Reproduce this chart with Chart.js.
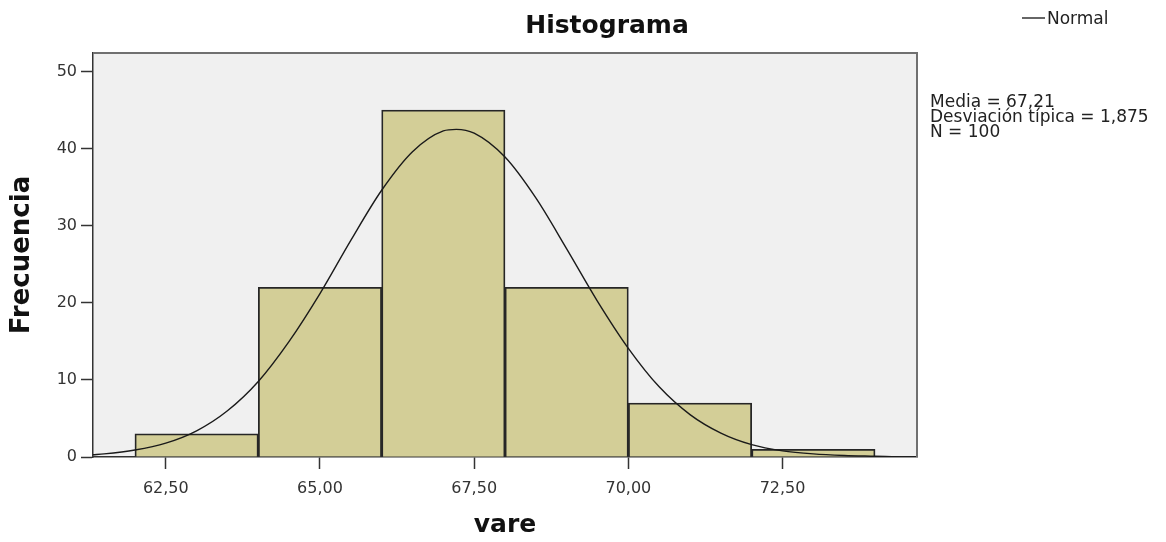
<!DOCTYPE html>
<html lang="es">
<head>
<meta charset="utf-8">
<title>Histograma</title>
<script src="https://cdn.jsdelivr.net/npm/chart.js@4.4.0/dist/chart.umd.min.js"></script>
<style>
    body { margin: 0; background: #ffffff; }
    #grafico { display: block; }
</style>
</head>
<body>
<canvas id="grafico" width="1166" height="542"></canvas>
<script>
// Datos del histograma (variable vare)
const limitesInferiores = [62, 64, 66, 68, 70, 72];
const anchoIntervalo = 2;
const frecuencias = [3, 22, 45, 22, 7, 1];

// Curva normal
const curvaX = [61.32, 61.5, 62, 62.5, 63, 63.5, 64, 64.5, 65, 65.5, 66, 66.5, 67, 67.21, 67.5, 68, 68.5, 69, 69.5, 70, 70.5, 71, 71.5, 72, 72.5, 73, 73.5, 74, 74.5, 74.68];
const curvaY = [0.3, 0.4, 0.9, 1.8, 3.4, 6.0, 9.8, 15.0, 21.2, 28.1, 34.6, 39.6, 42.3, 42.5, 42.0, 38.9, 33.6, 27.0, 20.2, 14.1, 9.1, 5.5, 3.1, 1.6, 0.8, 0.4, 0.2, 0.1, 0.0, 0.0];

// Marcas de los ejes
const ticksX = [62.5, 65, 67.5, 70, 72.5];
const ticksY = [0, 10, 20, 30, 40, 50];

// Textos
const titulo = 'Histograma';
const resumen = ['Media = 67,21', 'Desviación típica = 1,875', 'N = 100'];
const nombreCurva = 'Normal';

const FUENTE = 'DejaVu Sans';
const COLORES = { barra: '#d3ce97', bordeBarra: '#262626', fondo: '#f0f0f0', eje: '#333333', marco: '#707070', curva: '#1a1a1a' };

// Fondo del área, marco, título, leyenda y resumen
const anotaciones = {
    id: 'anotaciones',
    beforeDraw(chart) {
        const { ctx, chartArea: a } = chart;
        ctx.save();
        ctx.fillStyle = COLORES.fondo;
        ctx.fillRect(a.left, a.top, a.right - a.left, a.bottom - a.top);
        ctx.restore();
    },
    afterDraw(chart) {
        const { ctx, chartArea: a } = chart;
        ctx.save();

        // marco superior y derecho
        ctx.strokeStyle = COLORES.marco;
        ctx.lineWidth = 2;
        ctx.beginPath();
        ctx.moveTo(a.left, a.top);
        ctx.lineTo(a.right, a.top);
        ctx.lineTo(a.right, a.bottom);
        ctx.stroke();

        // título
        ctx.fillStyle = '#111111';
        ctx.font = `bold 25px "${FUENTE}"`;
        ctx.textAlign = 'center';
        ctx.textBaseline = 'alphabetic';
        ctx.fillText(titulo, 607, 33);

        // leyenda
        ctx.strokeStyle = '#666666';
        ctx.lineWidth = 2;
        ctx.beginPath();
        ctx.moveTo(1022, 18);
        ctx.lineTo(1045, 18);
        ctx.stroke();
        ctx.fillStyle = '#222222';
        ctx.font = `17px "${FUENTE}"`;
        ctx.textAlign = 'left';
        ctx.fillText(nombreCurva, 1047, 24);

        // estadísticos
        resumen.forEach((linea, i) => {
            ctx.fillText(linea, 930, 107 + i * 15);
        });

        ctx.restore();
    }
};

const ctx = document.getElementById('grafico').getContext('2d');
const grafico = new Chart(ctx, {
    data: {
        datasets: [
            {
                type: 'line',
                label: nombreCurva,
                data: curvaX.map((x, i) => ({ x: x, y: curvaY[i] })),
                borderColor: COLORES.curva,
                borderWidth: 1.4,
                cubicInterpolationMode: 'monotone',
                pointRadius: 0,
                fill: false,
                order: 0
            },
            {
                type: 'bar',
                label: 'Frecuencia',
                data: limitesInferiores.map((l, i) => ({ x: l + anchoIntervalo / 2, y: frecuencias[i] })),
                backgroundColor: COLORES.barra,
                borderColor: COLORES.bordeBarra,
                borderWidth: 1.8,
                barPercentage: 1,
                categoryPercentage: 1,
                order: 1
            }
        ]
    },
    options: {
        responsive: false,
        animation: false,
        events: [],
        layout: { padding: { top: 53, right: 249, bottom: 0, left: 0 } },
        plugins: { legend: { display: false }, title: { display: false }, tooltip: { enabled: false } },
        scales: {
            x: {
                type: 'linear',
                min: 61.32,
                max: 74.68,
                offset: false,
                afterBuildTicks: s => { s.ticks = ticksX.map(v => ({ value: v })); },
                afterFit: s => { s.height = 85; },
                grid: { offset: false, drawOnChartArea: false, drawTicks: true, tickLength: 12, tickColor: COLORES.eje, tickWidth: 1.5 },
                border: { color: COLORES.eje, width: 1.5 },
                ticks: {
                    font: { family: FUENTE, size: 16 },
                    color: '#333333',
                    padding: 10,
                    maxRotation: 0,
                    callback: v => v.toFixed(2).replace('.', ',')
                },
                title: { display: true, text: 'vare', color: '#111111', font: { family: FUENTE, size: 25, weight: 'bold' }, padding: { top: 0, bottom: 2 } }
            },
            y: {
                min: 0,
                max: 52.4,
                afterBuildTicks: s => { s.ticks = ticksY.map(v => ({ value: v })); },
                afterFit: s => { s.width = 93; },
                grid: { drawOnChartArea: false, drawTicks: true, tickLength: 12, tickColor: COLORES.eje, tickWidth: 1.5 },
                border: { color: COLORES.eje, width: 1.5 },
                ticks: { font: { family: FUENTE, size: 16 }, color: '#333333', padding: 4 },
                title: { display: true, text: 'Frecuencia', color: '#111111', font: { family: FUENTE, size: 26, weight: 'bold' }, padding: { top: 7, bottom: 0 } }
            }
        }
    },
    plugins: [anotaciones]
});
</script>
</body>
</html>
